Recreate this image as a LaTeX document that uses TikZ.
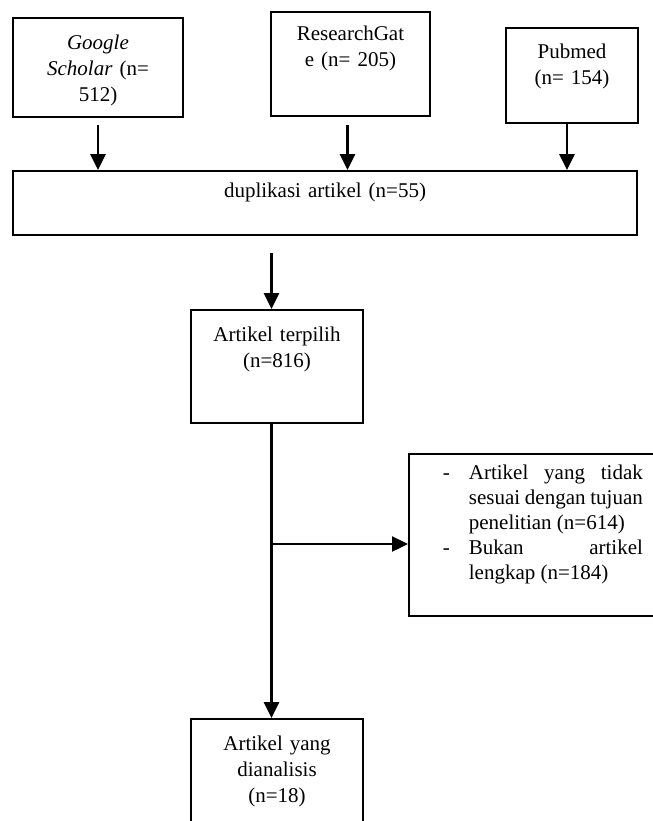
\documentclass[tikz,border=0pt]{standalone}
\usepackage{fontspec}
\setmainfont{Liberation Serif}
\usetikzlibrary{arrows.meta}
\tikzstyle{box}=[draw, line width=0.9pt, inner sep=0pt, align=center, anchor=base]
\tikzstyle{arr}=[-{Triangle[length=8pt,width=7.5pt]}, line width=1.2pt]
\newcommand{\kotak}{\node[box]}

\begin{document}
\begin{tikzpicture}[x=0.5pt,y=-0.5pt,font=\fontsize{10.5pt}{13pt}\selectfont]
\useasboundingbox (0,0) rectangle (653,821);
% sumber pencarian
\kotak[minimum width=85pt, text width=80pt, text height=15.5pt, text depth=34pt] (gs) at (98,49) {\textit{Google}\\\textit{Scholar} (n=\\512)};
\kotak[minimum width=79.5pt, text width=75pt, text height=14pt, text depth=38pt] (rg) at (350.5,40) {ResearchGat\\e (n= 205)};
\kotak[minimum width=66pt, text width=62pt, text height=15pt, text depth=32.5pt] (pm) at (572,58) {Pubmed\\(n= 154)};
\kotak[minimum width=312pt, text width=300pt, text height=13pt, text depth=19pt] (dup) at (325,197) {duplikasi artikel (n=55)};
% penyaringan
\kotak[minimum width=86pt, text width=80pt, text height=15.5pt, text depth=41pt] (sel) at (277,341) {Artikel terpilih\\(n=816)};
\kotak[anchor=base west, inner xsep=11pt, text width=106pt, text height=12.5pt, text depth=68.5pt, align=justify] (excl) at (408,479)
  {\fontsize{10.5pt}{12.5pt}\selectfont\hyphenpenalty=10000\tolerance=9999
   \hangindent=19pt\hangafter=1\makebox[19pt][l]{\hspace{6pt}-}Artikel yang tidak\linebreak sesuai dengan tujuan\linebreak penelitian (n=614)\par
   \hangindent=19pt\hangafter=1\makebox[19pt][l]{\hspace{6pt}-}Bukan artikel\linebreak lengkap (n=184)\par};
\kotak[minimum width=86pt, text width=80pt, text height=15.5pt, text depth=50pt] (fin) at (277,750) {Artikel yang\\dianalisis\\(n=18)};
% panah
\draw[arr] ([yshift=-3.5pt]gs.south) -- (gs.south |- dup.north);
\coordinate (rgo) at ([xshift=-1.5pt,yshift=-4pt]rg.south);
\draw[arr] (rgo) -- (rgo |- dup.north);
\coordinate (pmo) at ([xshift=-2.5pt]pm.south);
\draw[arr] (pmo) -- (pmo |- dup.north);
\coordinate (trunk) at (271.5,253);
\draw[arr] (trunk) -- (trunk |- sel.north);
\draw[arr] (trunk |- sel.south) -- (trunk |- fin.north);
\coordinate (cabang) at (271.5,544);
\draw[arr] (cabang) -- (cabang -| excl.west);
\end{tikzpicture}
\end{document}
